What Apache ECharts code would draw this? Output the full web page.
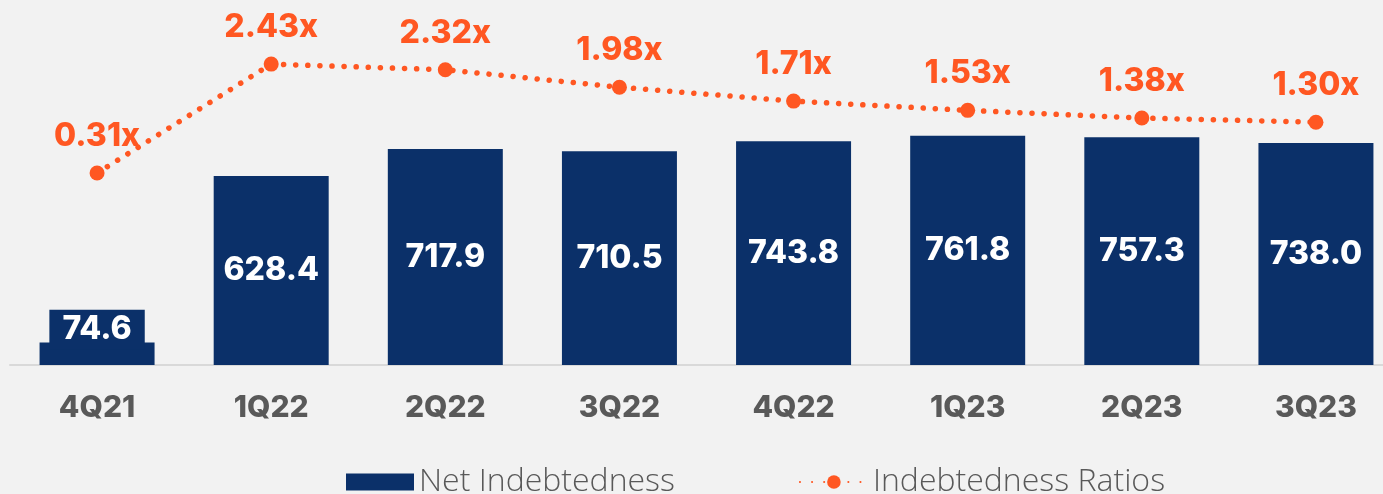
<!DOCTYPE html>
<html>
<head>
<meta charset="utf-8">
<script src="https://cdn.jsdelivr.net/npm/echarts@6/dist/echarts.min.js"></script>
<style>
html,body{margin:0;padding:0;background:#F2F2F2;overflow:hidden;}
#c{width:1403px;height:494px;}
</style>
</head>
<body>
<div id="c"></div>
<script>
const categories = ['4Q21','1Q22','2Q22','3Q22','4Q22','1Q23','2Q23','3Q23'];
const netIndebtedness = [74.6, 628.4, 717.9, 710.5, 743.8, 761.8, 757.3, 738.0];
const ratios = [0.31, 2.43, 2.32, 1.98, 1.71, 1.53, 1.38, 1.30];

const NAVY = '#0B3069';
const ORANGE = '#FF5722';
const FONT = 'Inter, "Open Sans", sans-serif';

const barData = netIndebtedness.map((v, i) => {
  if (i === 0) {
    return {
      value: v,
      label: {
        position: 'inside',
        offset: [0, -24],
        lineHeight: 30,
        backgroundColor: NAVY,
        padding: [8, 13, 2, 13]
      }
    };
  }
  return v;
});

const chart = echarts.init(document.getElementById('c'), null, {renderer: 'canvas'});
chart.setOption({
  backgroundColor: '#F2F2F2',
  animation: false,
  grid: {left: 10, top: 0, right: 0, height: 365, containLabel: false},
  legend: {
    bottom: -9,
    left: 341,
    itemGap: 124,
    itemWidth: 68,
    itemHeight: 17,
    textStyle: {fontFamily: '"Open Sans", sans-serif', fontWeight: 300, fontSize: 32, color: '#595959'},
    data: [
      {name: 'Net Indebtedness', icon: 'rect'},
      {name: 'Indebtedness Ratios'}
    ]
  },
  xAxis: {
    type: 'category',
    data: categories,
    axisLine: {lineStyle: {color: '#D9D9D9', width: 2}},
    axisTick: {show: false},
    axisLabel: {fontFamily: FONT, fontWeight: 800, fontSize: 30, color: '#595959', margin: 28}
  },
  yAxis: [
    {type: 'value', min: 0, max: 1213.4, show: false, splitLine: {show: false}},
    {type: 'value', min: -3.424, max: 3.677, show: false, splitLine: {show: false}}
  ],
  series: [
    {
      name: 'Net Indebtedness',
      type: 'bar',
      barWidth: 115,
      data: barData,
      itemStyle: {color: NAVY},
      label: {
        show: true,
        position: 'inside',
        fontFamily: FONT,
        fontWeight: 800,
        fontSize: 32,
        color: '#FFFFFF',
        formatter: p => p.value.toFixed(1)
      }
    },
    {
      name: 'Indebtedness Ratios',
      type: 'line',
      yAxisIndex: 1,
      data: ratios,
      symbol: 'circle',
      symbolSize: 15,
      itemStyle: {color: ORANGE},
      lineStyle: {color: ORANGE, width: 5.5, type: [0.1, 12], cap: 'round'},
      label: {
        show: true,
        position: 'top',
        distance: 13,
        fontFamily: FONT,
        fontWeight: 800,
        fontSize: 32,
        color: ORANGE,
        formatter: p => p.value.toFixed(2) + 'x'
      }
    }
  ]
});
</script>
</body>
</html>
